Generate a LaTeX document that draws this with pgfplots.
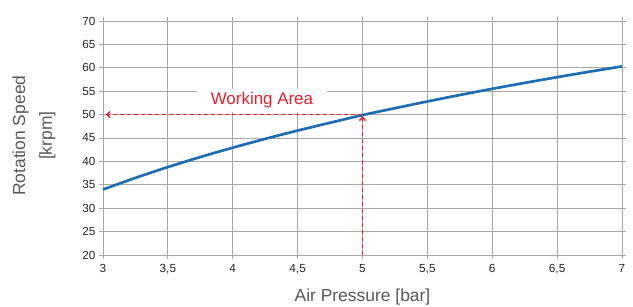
\documentclass[border=0pt]{standalone}
\usepackage{pgfplots}
\pgfplotsset{compat=1.18}
\usepackage{fontspec}
\setmainfont{Liberation Sans}
\usetikzlibrary{arrows.meta}
\definecolor{curveblue}{HTML}{1F6DB3}
\definecolor{workred}{HTML}{E8202A}
\definecolor{gridgray}{HTML}{A8A8A8}
\definecolor{labelgray}{HTML}{595959}
\definecolor{tickdark}{HTML}{262626}
\begin{document}
\begin{tikzpicture}
\path[use as bounding box] (-103bp,-52bp) rectangle (530bp,255bp);
\begin{axis}[
  at={(0,0)}, anchor=south west,
  scale only axis,
  width=519bp, height=234bp,
  xmin=3, xmax=7, ymin=20, ymax=70,
  xtick={3,3.5,...,7}, ytick={20,25,...,70},
  xticklabels={3,{3,5},4,{4,5},5,{5,5},6,{6,5},7},
  /pgf/number format/assume math mode=true,
  grid=major,
  major grid style={gridgray, line width=0.9bp},
  axis line style={gridgray, line width=0.9bp},
  tick style={gridgray, line width=0.9bp},
  tick align=outside,
  major tick length=4bp,
  ticklabel style={font=\fontsize{11.8}{13}\selectfont, text=tickdark},
  xticklabel style={yshift=-2bp},
  xlabel={Air Pressure [bar]},
  ylabel={Rotation Speed\\ {[krpm]}},
  every axis x label/.style={at={(axis description cs:0.5,-0.18)}, anchor=center,
     font=\fontsize{17.5}{27}\selectfont, text=labelgray},
  every axis y label/.style={at={(axis description cs:-0.133,0.51)}, anchor=center, rotate=90, align=center,
     font=\fontsize{17.5}{27}\selectfont, text=labelgray},
  clip=false,
]
\addplot[curveblue, line width=2.7bp, smooth] coordinates {
 (3,34.0) (3.25,36.48) (3.5,38.79) (3.75,40.93) (4,42.93) (4.25,44.81)
 (4.5,46.59) (4.75,48.26) (5,49.9) (5.25,51.37) (5.5,52.81) (5.75,54.19)
 (6,55.51) (6.25,56.78) (6.5,58.0) (6.75,59.17) (7,60.3)
};
\node[fill=white, inner xsep=14bp, inner ysep=4bp, text=workred,
      font=\fontsize{17}{18}\selectfont] at (axis cs:4.225,53.0) {Working Area};
\addplot[workred, line width=1.4bp, dash pattern=on 4bp off 3bp,
  -{Straight Barb[length=3.5bp,width=6bp]}] coordinates {(5,50) (3.02,50)};
\addplot[workred, line width=1.4bp, dash pattern=on 4bp off 3bp,
  -{Straight Barb[length=3.5bp,width=6bp]}] coordinates {(5,20) (5,49.7)};
\end{axis}
\end{tikzpicture}
\end{document}
